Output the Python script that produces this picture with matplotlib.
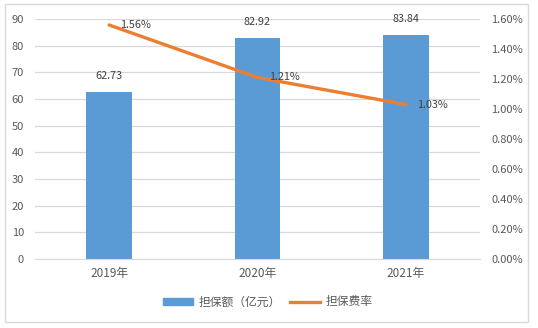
import matplotlib
matplotlib.use('Agg')
import matplotlib.pyplot as plt
from matplotlib.patches import Rectangle
from matplotlib.lines import Line2D
from matplotlib.ticker import FuncFormatter

plt.rcParams['font.family'] = ['Noto Sans CJK SC', 'DejaVu Sans']

years = ['2019年', '2020年', '2021年']
amount = [62.73, 82.92, 83.84]      # 担保额（亿元）
rate = [1.56, 1.21, 1.03]           # 担保费率 (%)

bar_color = '#5B9BD5'
line_color = '#ED7D31'
text_color = '#595959'
grid_color = '#D9D9D9'

W, H = 538, 328
fig = plt.figure(figsize=(W / 100, H / 100), dpi=100)
ax1 = fig.add_axes([35 / W, 1 - 259 / H, 445 / W, 240 / H])
ax2 = ax1.twinx()

x = list(range(len(years)))
ax1.bar(x, amount, width=0.31, color=bar_color, zorder=2)
for xi, v in zip(x, amount):
    ax1.annotate(f'{v:.2f}', (xi, v), xytext=(0, 8), textcoords='offset points',
                 ha='center', va='bottom', fontsize=7.8, color='#404040')

ax1.set_xlim(-0.5, 2.5)
ax1.set_ylim(0, 90)
ax1.set_yticks(range(0, 91, 10))
ax1.set_xticks(x)
ax1.set_xticklabels(years)
ax1.grid(axis='y', color=grid_color, linewidth=0.9, zorder=0)
ax1.set_axisbelow(True)

ax2.plot(x, rate, color=line_color, linewidth=2.4, solid_capstyle='round', zorder=3)
for xi, v in zip(x, rate):
    ax2.annotate(f'{v:.2f}%', (xi, v), xytext=(8, 0), textcoords='offset points',
                 ha='left', va='center', fontsize=7.8, color='#404040')
ax2.set_ylim(0, 1.6)
ax2.set_yticks([i * 0.2 for i in range(9)])
ax2.yaxis.set_major_formatter(FuncFormatter(lambda v, p: f'{v:.2f}%'))

for a in (ax1, ax2):
    for s in a.spines.values():
        s.set_visible(False)
    a.tick_params(length=0, labelsize=8, colors=text_color)
ax1.spines['bottom'].set_visible(True)
ax1.spines['bottom'].set_color(grid_color)
ax1.tick_params(axis='x', pad=6, labelsize=8.5)
ax1.tick_params(axis='y', pad=8)
ax2.tick_params(axis='y', pad=8)

handles = [Rectangle((0, 0), 1, 1, color=bar_color),
           Line2D([0], [0], color=line_color, linewidth=2.4)]
fig.legend(handles, ['担保额（亿元）', '担保费率'], loc='center',
           bbox_to_anchor=(268 / W, 1 - 302 / H), ncol=2, frameon=False,
           fontsize=8.5, labelcolor=text_color, handlelength=2.5,
           handleheight=0.6, columnspacing=0.8, handletextpad=0.5)

fig.patches.append(Rectangle((5 / W, 1 - 322 / H), 523 / W, 318 / H,
                             transform=fig.transFigure, fill=False,
                             edgecolor='#D9D9D9', linewidth=1))

fig.savefig('out.png', dpi=100)
